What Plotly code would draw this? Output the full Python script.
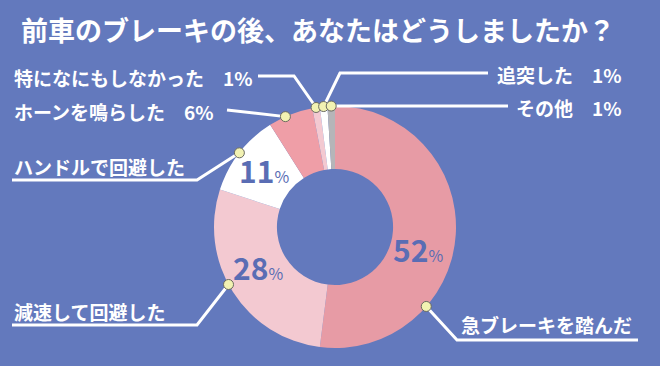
import math
import plotly.graph_objects as go

# ---- data ----
categories = ["急ブレーキを踏んだ", "減速して回避した", "ハンドルで回避した",
              "ホーンを鳴らした", "特になにもしなかった", "追突した", "その他"]
values = [52, 28, 11, 6, 1, 1, 1]
title_text = "前車のブレーキの後、あなたはどうしましたか？"

# ---- style ----
BG = "#6379bd"
slice_colors = ["#e79ba5", "#f3c9d1", "#ffffff", "#ef9ea7", "#f3c9d1", "#ffffff", "#b5b5b8"]
NUM_COLOR = "#5a6db4"
FONT = "Noto Sans CJK JP"
W, H = 660, 366
CX, CY, R = 335, 227, 121          # donut centre / outer radius in px
HOLE = 0.48
anchor_frac = [0.70, 0.54, 0.5, 0.38, 0.5, 0.5, 0.5]  # where on each slice's rim the leader dot sits

fig = go.Figure()
fig.add_trace(go.Pie(
    labels=categories, values=values, sort=False, direction="clockwise", rotation=0,
    hole=HOLE, marker=dict(colors=slice_colors, line=dict(width=0)),
    textinfo="none", hoverinfo="skip", showlegend=False,
    domain=dict(x=[(CX - R) / W, (CX + R) / W], y=[(H - CY - R) / H, (H - CY + R) / H]),
))

# angles of each slice (degrees clockwise from 12 o'clock)
total = sum(values)
starts, acc = [], 0
for v in values:
    starts.append(acc / total * 360)
    acc += v
dots = []
for i, v in enumerate(values):
    th = math.radians(starts[i] + anchor_frac[i] * v / total * 360)
    dots.append((CX + R * math.sin(th), CY - R * math.cos(th)))

# leader line routes (label end points), then to the dot
routes = [
    [(638, 340), (457, 340)],          # 急ブレーキ
    [(12, 325), (197, 325)],           # 減速
    [(12, 180), (197, 180)],           # ハンドル
    [(227, 110)],                      # ホーン
    [(258, 76), (294, 76)],            # 特に
    [(488, 73), (340, 73)],            # 追突
    [(508, dots[6][1])],               # その他
]
shapes = []
for i, pts in enumerate(routes):
    pts = pts + [dots[i]]
    path = "M " + " L ".join(f"{x:.2f},{y:.2f}" for x, y in pts)
    shapes.append(dict(type="path", path=path, xref="x", yref="y",
                       line=dict(color="white", width=3), layer="above"))
for (x, y) in dots:
    shapes.append(dict(type="circle", xref="x", yref="y", x0=x - 5, x1=x + 5, y0=y - 5, y1=y + 5,
                       fillcolor="#f2f2b2", line=dict(color="#6a6a60", width=1), layer="above"))

ann = []
# title
ann.append(dict(x=318, y=29, xref="x", yref="y", text=f"<b>{title_text}</b>", showarrow=False,
                font=dict(family=FONT, size=27, color="white"), xanchor="center", yanchor="middle"))
# category labels
lab_font = dict(family=FONT, size=19, color="white")
label_pos = [
    (459, 324, "left", categories[0]),
    (12, 311, "left", categories[1]),
    (12, 166, "left", categories[2]),
    (12, 111, "left", f"{categories[3]}　{values[3]}%"),
    (12, 77, "left", f"{categories[4]}　{values[4]}%"),
    (624, 74, "right", f"{categories[5]}　{values[5]}%"),
    (624, 107, "right", f"{categories[6]}　{values[6]}%"),
]
for x, y, anc, t in label_pos:
    ann.append(dict(x=x, y=y, xref="x", yref="y", text=f"<b>{t}</b>", showarrow=False,
                    font=lab_font, xanchor=anc, yanchor="middle"))
# percentage numbers inside donut
num_pos = [(418, 249), (258, 267), (264, 170)]
for (x, y), v in zip(num_pos, values[:3]):
    ann.append(dict(x=x, y=y, xref="x", yref="y",
                    text=f"<b>{v}</b><span style='font-size:16px'>%</span>", showarrow=False,
                    font=dict(family=FONT, size=30, color=NUM_COLOR), xanchor="center", yanchor="middle"))

fig.update_layout(
    width=W, height=H, margin=dict(l=0, r=0, t=0, b=0),
    paper_bgcolor=BG, plot_bgcolor="rgba(0,0,0,0)",
    xaxis=dict(range=[0, W], visible=False, fixedrange=True, domain=[0, 1]),
    yaxis=dict(range=[H, 0], visible=False, fixedrange=True, domain=[0, 1]),
    shapes=shapes, annotations=ann, showlegend=False,
)
fig.write_html("out.html")
